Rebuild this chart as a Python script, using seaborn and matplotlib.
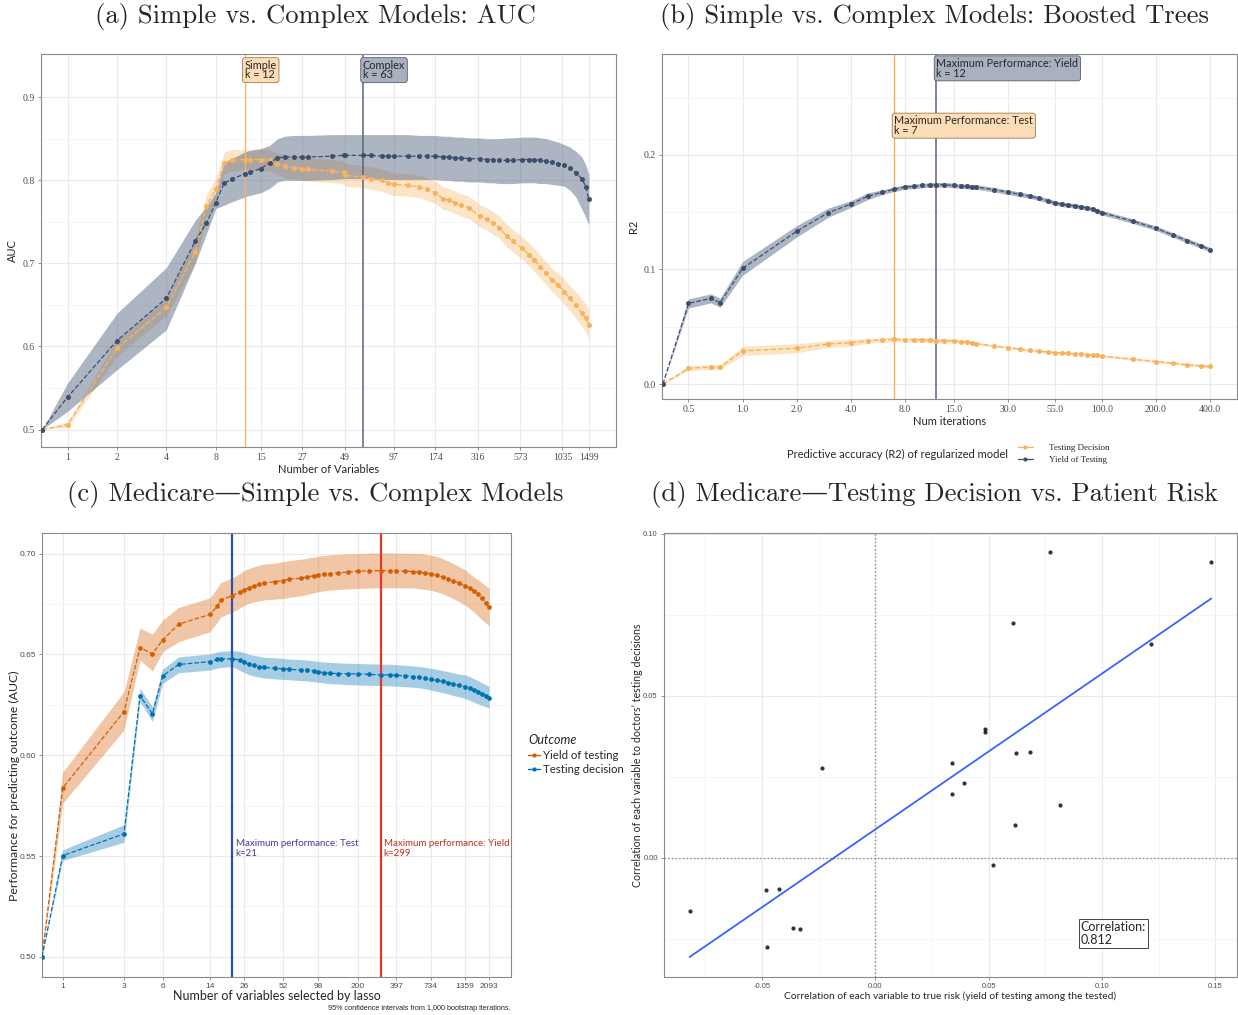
import matplotlib
matplotlib.use("Agg")
import matplotlib.pyplot as plt
import seaborn as sns
from matplotlib.lines import Line2D

# ---------------- data ----------------
# (a) AUC vs number of variables
vars_a = [0.7, 1, 2, 4, 6, 7, 8, 9, 10, 12, 13, 15, 17, 19, 21, 24, 27, 29, 41, 48,
          49, 63, 71, 82, 90, 97, 118, 139, 155, 174, 194, 211, 229, 249, 278, 324,
          358, 391, 428, 473, 514, 589, 652, 698, 760, 826, 897, 975, 1060, 1150,
          1250, 1360, 1440, 1499]
auc_simple = [0.500, 0.506, 0.598, 0.647, 0.714, 0.769, 0.789, 0.821, 0.824, 0.825,
              0.825, 0.825, 0.824, 0.820, 0.817, 0.815, 0.814, 0.813, 0.811, 0.810,
              0.806, 0.804, 0.802, 0.800, 0.797, 0.795, 0.794, 0.792, 0.789, 0.785,
              0.778, 0.776, 0.773, 0.770, 0.767, 0.757, 0.753, 0.748, 0.743, 0.733,
              0.727, 0.718, 0.710, 0.704, 0.696, 0.688, 0.680, 0.674, 0.666, 0.658,
              0.650, 0.640, 0.634, 0.626]
auc_simple_lo = [0.500, 0.503, 0.588, 0.637, 0.700, 0.755, 0.776, 0.808, 0.811, 0.813,
                 0.813, 0.812, 0.811, 0.807, 0.803, 0.801, 0.800, 0.799, 0.797, 0.796,
                 0.793, 0.791, 0.789, 0.787, 0.784, 0.782, 0.781, 0.779, 0.776, 0.772,
                 0.765, 0.763, 0.760, 0.757, 0.754, 0.744, 0.740, 0.735, 0.730, 0.720,
                 0.714, 0.705, 0.696, 0.690, 0.682, 0.674, 0.666, 0.659, 0.651, 0.643,
                 0.634, 0.624, 0.617, 0.609]
auc_simple_hi = [0.500, 0.509, 0.608, 0.657, 0.728, 0.783, 0.802, 0.834, 0.837, 0.837,
                 0.837, 0.838, 0.837, 0.833, 0.831, 0.829, 0.828, 0.827, 0.825, 0.824,
                 0.820, 0.818, 0.816, 0.814, 0.811, 0.809, 0.808, 0.806, 0.803, 0.799,
                 0.792, 0.790, 0.787, 0.784, 0.781, 0.771, 0.767, 0.762, 0.757, 0.747,
                 0.741, 0.732, 0.724, 0.718, 0.710, 0.702, 0.694, 0.688, 0.681, 0.673,
                 0.666, 0.657, 0.651, 0.644]
auc_complex = [0.500, 0.539, 0.607, 0.658, 0.727, 0.748, 0.773, 0.797, 0.801, 0.808,
               0.810, 0.814, 0.821, 0.827, 0.828, 0.828, 0.828, 0.828, 0.829, 0.830,
               0.830, 0.830, 0.830, 0.829, 0.829, 0.829, 0.829, 0.829, 0.829, 0.829,
               0.828, 0.828, 0.827, 0.827, 0.826, 0.826, 0.825, 0.825, 0.824, 0.824,
               0.824, 0.825, 0.825, 0.825, 0.824, 0.823, 0.822, 0.820, 0.818, 0.815,
               0.809, 0.802, 0.792, 0.777]
auc_complex_lo = [0.500, 0.522, 0.572, 0.620, 0.700, 0.735, 0.766, 0.770, 0.774, 0.780,
                  0.782, 0.785, 0.790, 0.798, 0.800, 0.800, 0.800, 0.800, 0.801, 0.802,
                  0.802, 0.802, 0.802, 0.801, 0.801, 0.801, 0.801, 0.801, 0.801, 0.801,
                  0.800, 0.800, 0.799, 0.799, 0.798, 0.798, 0.797, 0.797, 0.796, 0.796,
                  0.796, 0.797, 0.797, 0.797, 0.796, 0.796, 0.795, 0.794, 0.793, 0.788,
                  0.780, 0.765, 0.755, 0.746]
auc_complex_hi = [0.500, 0.556, 0.640, 0.695, 0.752, 0.768, 0.785, 0.822, 0.826, 0.834,
                  0.836, 0.838, 0.842, 0.850, 0.853, 0.854, 0.854, 0.854, 0.855, 0.855,
                  0.855, 0.855, 0.855, 0.855, 0.855, 0.855, 0.855, 0.854, 0.854, 0.854,
                  0.853, 0.853, 0.852, 0.852, 0.851, 0.851, 0.850, 0.850, 0.850, 0.851,
                  0.851, 0.852, 0.852, 0.852, 0.851, 0.850, 0.848, 0.846, 0.843, 0.840,
                  0.835, 0.828, 0.818, 0.807]
ticks_a = [1, 2, 4, 8, 15, 27, 49, 97, 174, 316, 573, 1035, 1499]

# (b) R2 vs boosting iterations
iters_b = [0.36, 0.5, 0.667, 0.75, 1.0, 2.0, 3.0, 4.0, 5.0, 6.0,
           7.0, 8.0, 9.0, 10.0, 11.0, 12.0, 13.2, 15.0, 16.5, 17.7,
           19.0, 20.0, 25.0, 30.0, 35.0, 40.0, 45.0, 50.0, 55.0, 60.0,
           65.0, 71.0, 77.0, 83.0, 89.0, 94.0, 100.0, 150.0, 200.0, 250.0,
           300.0, 355.0, 400.0]
r2_yield = [0.0, 0.0704, 0.0748, 0.0710, 0.1009, 0.1333, 0.1496, 0.1570, 0.1640, 0.1675,
            0.1700, 0.1720, 0.1725, 0.1733, 0.1736, 0.1740, 0.1740, 0.1733, 0.1728, 0.1725,
            0.1720, 0.1720, 0.1696, 0.1675, 0.1655, 0.1640, 0.1620, 0.1600, 0.1580, 0.1570,
            0.1562, 0.1555, 0.1545, 0.1537, 0.1528, 0.1510, 0.1496, 0.1420, 0.1360, 0.1300,
            0.1250, 0.1206, 0.1174]
r2_yield_hw = [0.0, 0.004, 0.004, 0.004, 0.006, 0.005, 0.004, 0.003, 0.003, 0.002,
               0.002, 0.002, 0.002, 0.002, 0.002, 0.002, 0.002, 0.002, 0.002, 0.002,
               0.002, 0.002, 0.002, 0.002, 0.002, 0.002, 0.002, 0.002, 0.002, 0.002,
               0.002, 0.002, 0.002, 0.002, 0.002, 0.002, 0.002, 0.002, 0.002, 0.002,
               0.002, 0.002, 0.002]
r2_test = [0.0, 0.0139, 0.0148, 0.0148, 0.0290, 0.0313, 0.0350, 0.0362, 0.0377, 0.0386,
           0.0390, 0.0386, 0.0386, 0.0386, 0.0382, 0.0380, 0.0380, 0.0377, 0.0370, 0.0367,
           0.0361, 0.0354, 0.0333, 0.0319, 0.0307, 0.0296, 0.0287, 0.0281, 0.0275, 0.0272,
           0.0267, 0.0264, 0.0261, 0.0258, 0.0255, 0.0250, 0.0246, 0.0217, 0.0197, 0.0183,
           0.0168, 0.0160, 0.0154]
r2_test_hw = [0.0, 0.002, 0.002, 0.002, 0.004, 0.004, 0.003, 0.003, 0.002, 0.002,
              0.002, 0.002, 0.002, 0.002, 0.002, 0.002, 0.002, 0.0015, 0.0015, 0.0015,
              0.0012, 0.0012, 0.001, 0.001, 0.001, 0.001, 0.001, 0.001, 0.001, 0.001,
              0.001, 0.001, 0.001, 0.001, 0.001, 0.001, 0.001, 0.001, 0.001, 0.001,
              0.001, 0.001, 0.001]
ticks_b = [0.5, 1.0, 2.0, 4.0, 8.0, 15.0, 30.0, 55.0, 100.0, 200.0, 400.0]

# (c) Medicare AUC vs lasso-selected variables
vars_c = [0.69, 1, 3, 4, 5, 6, 8, 14, 16, 17,
          21, 24, 26, 28, 31, 34, 37, 45, 52, 58,
          72, 80, 90, 98, 108, 120, 139, 168, 200, 245,
          299, 352, 397, 461, 534, 596, 665, 734, 821, 911,
          1010, 1100, 1210, 1359, 1480, 1590, 1710, 1840, 1980, 2093]
auc_yield = [0.500, 0.5837, 0.6216, 0.6533, 0.6503, 0.6571, 0.6650, 0.6698, 0.6739, 0.6769,
             0.6792, 0.6810, 0.6820, 0.6830, 0.6840, 0.6848, 0.6853, 0.6860, 0.6866, 0.6873,
             0.6878, 0.6884, 0.6890, 0.6894, 0.6898, 0.6900, 0.6904, 0.6909, 0.6913, 0.6914,
             0.6916, 0.6914, 0.6914, 0.6913, 0.6911, 0.6908, 0.6904, 0.6900, 0.6893, 0.6884,
             0.6875, 0.6865, 0.6855, 0.6840, 0.6827, 0.6814, 0.6800, 0.6778, 0.6756, 0.6733]
auc_yield_lo = [0.500, 0.5762, 0.6125, 0.6472, 0.6418, 0.6513, 0.6563, 0.6612, 0.6660, 0.6686,
                0.6710, 0.6730, 0.6744, 0.6752, 0.6760, 0.6766, 0.6770, 0.6774, 0.6777, 0.6783,
                0.6790, 0.6797, 0.6805, 0.6810, 0.6815, 0.6818, 0.6822, 0.6825, 0.6827, 0.6829,
                0.6830, 0.6830, 0.6830, 0.6830, 0.6829, 0.6826, 0.6822, 0.6818, 0.6810, 0.6800,
                0.6787, 0.6776, 0.6763, 0.6744, 0.6727, 0.6710, 0.6692, 0.6672, 0.6655, 0.6640]
auc_yield_hi = [0.500, 0.5916, 0.6315, 0.6630, 0.6600, 0.6670, 0.6733, 0.6780, 0.6830, 0.6855,
                0.6881, 0.6900, 0.6917, 0.6925, 0.6935, 0.6942, 0.6948, 0.6953, 0.6959, 0.6965,
                0.6972, 0.6977, 0.6982, 0.6987, 0.6990, 0.6993, 0.6996, 0.6999, 0.7000, 0.7002,
                0.7003, 0.7003, 0.7002, 0.7002, 0.7001, 0.7000, 0.6998, 0.6992, 0.6985, 0.6975,
                0.6962, 0.6950, 0.6937, 0.6920, 0.6900, 0.6885, 0.6870, 0.6855, 0.6840, 0.6827]
auc_test = [0.500, 0.5502, 0.5610, 0.6295, 0.6205, 0.6393, 0.6450, 0.6464, 0.6475, 0.6478,
            0.6478, 0.6472, 0.6462, 0.6450, 0.6445, 0.6439, 0.6436, 0.6430, 0.6429, 0.6426,
            0.6422, 0.6422, 0.6419, 0.6414, 0.6409, 0.6406, 0.6405, 0.6404, 0.6403, 0.6401,
            0.6398, 0.6398, 0.6396, 0.6393, 0.6390, 0.6386, 0.6381, 0.6376, 0.6371, 0.6366,
            0.6360, 0.6353, 0.6347, 0.6340, 0.6332, 0.6323, 0.6315, 0.6305, 0.6295, 0.6285]
auc_test_lo = [0.500, 0.5478, 0.5568, 0.6266, 0.6167, 0.6356, 0.6409, 0.6422, 0.6432, 0.6436,
               0.6439, 0.6420, 0.6410, 0.6400, 0.6392, 0.6387, 0.6383, 0.6378, 0.6376, 0.6374,
               0.6370, 0.6368, 0.6364, 0.6362, 0.6358, 0.6355, 0.6353, 0.6350, 0.6348, 0.6347,
               0.6345, 0.6344, 0.6342, 0.6340, 0.6337, 0.6334, 0.6330, 0.6323, 0.6317, 0.6310,
               0.6303, 0.6296, 0.6290, 0.6282, 0.6272, 0.6263, 0.6255, 0.6247, 0.6240, 0.6233]
auc_test_hi = [0.500, 0.5531, 0.5655, 0.6332, 0.6240, 0.6426, 0.6488, 0.6502, 0.6512, 0.6516,
               0.6518, 0.6515, 0.6508, 0.6500, 0.6495, 0.6490, 0.6486, 0.6483, 0.6480, 0.6477,
               0.6474, 0.6472, 0.6468, 0.6465, 0.6462, 0.6460, 0.6458, 0.6456, 0.6455, 0.6453,
               0.6452, 0.6451, 0.6449, 0.6446, 0.6443, 0.6440, 0.6436, 0.6431, 0.6426, 0.6420,
               0.6414, 0.6408, 0.6403, 0.6398, 0.6390, 0.6380, 0.6370, 0.6360, 0.6350, 0.6340]
ticks_c = [1, 3, 6, 14, 26, 52, 98, 200, 397, 734, 1359, 2093]

# (d) per-variable correlations
corr_risk = [-0.0819, -0.0482, -0.0426, -0.0477, -0.0362, -0.0332, -0.0233, 0.0339,
             0.0336, 0.0391, 0.0483, 0.0483, 0.0605, 0.0619, 0.0680, 0.0617, 0.0520,
             0.0770, 0.0816, 0.1217, 0.1482]
corr_test = [-0.0163, -0.0100, -0.0097, -0.0276, -0.0216, -0.0221, 0.0278, 0.0291,
             0.0196, 0.0231, 0.0396, 0.0389, 0.0724, 0.0322, 0.0325, 0.0100, -0.0022,
             0.0942, 0.0163, 0.0659, 0.0911]

# ---------------- style ----------------
sns.set_theme(style="white")
plt.rcParams['font.family'] = ['Lato', 'DejaVu Sans']

ORANGE = '#F9B25C'
NAVY = '#3E4F6E'
C_ORANGE = '#D55E00'
C_BLUE = '#0072B2'
TITLE_FONT = ['cmr10', 'DejaVu Serif']
SERIF = ['Liberation Serif', 'DejaVu Serif']
NARROW = ['Liberation Sans Narrow', 'Liberation Sans', 'DejaVu Sans']

W, H = 1238, 1015
fig = plt.figure(figsize=(W / 100, H / 100), dpi=100)


def box(l, t, r, b):
    return [l / W, 1 - b / H, (r - l) / W, (b - t) / H]


def frame(ax, yminor):
    for s in ax.spines.values():
        s.set_color('#8a8a8a')
        s.set_linewidth(0.8)
    ax.set_axisbelow(True)
    ax.grid(True, which='major', color='#ebebeb', lw=0.8)
    ax.set_yticks(yminor, minor=True)
    ax.grid(True, which='minor', axis='y', color='#f2f2f2', lw=0.5)
    ax.tick_params(which='major', length=2.5, width=0.5, color='#666666',
                   labelcolor='#4d4d4d', pad=2, bottom=True, left=True)
    ax.tick_params(which='minor', length=0)


def series(ax, x, y, color, ms, lw):
    sns.lineplot(x=x, y=y, ax=ax, color=color, estimator=None, sort=False,
                 linestyle='--', lw=lw, marker='o', markersize=ms,
                 markeredgewidth=0, zorder=3)


# ---------------- (a) ----------------
ax = fig.add_axes(box(41, 54, 616, 447))
ax.set_xscale('log', base=2)
ax.fill_between(vars_a, auc_simple_lo, auc_simple_hi, color=ORANGE, alpha=0.35, lw=0)
ax.fill_between(vars_a, auc_complex_lo, auc_complex_hi, color='#4A5B7A', alpha=0.45, lw=0)
series(ax, vars_a, auc_simple, ORANGE, 3.6, 1.0)
series(ax, vars_a, auc_complex, NAVY, 3.6, 0.9)
ax.axvline(12, color=ORANGE, lw=0.9, zorder=2)
ax.axvline(63, color='#56657f', lw=1.1, zorder=2)
ax.text(12, 0.945, "Simple\nk = 12", ha='left', va='top', fontsize=7.8, linespacing=0.85,
        bbox=dict(boxstyle='round,pad=0.2,rounding_size=0.25', fc='#FDDDB7', ec='#9a7a50', lw=0.6))
ax.text(63, 0.945, "Complex\nk = 63", ha='left', va='top', fontsize=7.8, linespacing=0.85,
        bbox=dict(boxstyle='round,pad=0.2,rounding_size=0.25', fc='#A9B1C1', ec='#555f70', lw=0.6))
ax.set_xlim(0.689, 2195)
ax.set_ylim(0.479, 0.952)
frame(ax, [0.55, 0.65, 0.75, 0.85])
ax.set_xticks(ticks_a)
ax.set_xticklabels([str(t) for t in ticks_a], fontfamily=SERIF, fontsize=7)
ax.xaxis.set_minor_locator(matplotlib.ticker.NullLocator())
ax.set_yticks([0.5, 0.6, 0.7, 0.8, 0.9])
ax.set_yticklabels(['0.5', '0.6', '0.7', '0.8', '0.9'], fontfamily=SERIF, fontsize=7)
ax.set_xlabel("Number of Variables", fontsize=8, labelpad=1)
ax.set_ylabel("AUC", fontsize=8, labelpad=3)

# ---------------- (b) ----------------
ax = fig.add_axes(box(662, 54, 1237, 399))
ax.set_xscale('log', base=2)
ax.fill_between(iters_b, [v - h for v, h in zip(r2_test, r2_test_hw)],
                [v + h for v, h in zip(r2_test, r2_test_hw)], color=ORANGE, alpha=0.35, lw=0)
ax.fill_between(iters_b, [v - h for v, h in zip(r2_yield, r2_yield_hw)],
                [v + h for v, h in zip(r2_yield, r2_yield_hw)], color='#4A5B7A', alpha=0.45, lw=0)
series(ax, iters_b, r2_test, ORANGE, 3.6, 1.0)
series(ax, iters_b, r2_yield, NAVY, 3.6, 0.9)
ax.axvline(7, color=ORANGE, lw=1.0, zorder=2)
ax.axvline(12, color='#56657f', lw=1.1, zorder=2)
ax.text(12, 0.2845, "Maximum Performance: Yield\nk = 12", ha='left', va='top', fontsize=7.8,
        linespacing=0.85,
        bbox=dict(boxstyle='round,pad=0.2,rounding_size=0.25', fc='#A9B1C1', ec='#555f70', lw=0.6))
ax.text(7, 0.2345, "Maximum Performance: Test\nk = 7", ha='left', va='top', fontsize=7.8,
        linespacing=0.85,
        bbox=dict(boxstyle='round,pad=0.2,rounding_size=0.25', fc='#FDDDB7', ec='#9a7a50', lw=0.6))
ax.set_xlim(0.356, 566)
ax.set_ylim(-0.013, 0.288)
frame(ax, [0.05, 0.15, 0.25])
ax.set_xticks(ticks_b)
ax.set_xticklabels([f"{t:.1f}" for t in ticks_b], fontfamily=SERIF, fontsize=7)
ax.xaxis.set_minor_locator(matplotlib.ticker.NullLocator())
ax.set_yticks([0.0, 0.1, 0.2])
ax.set_yticklabels(['0.0', '0.1', '0.2'], fontfamily=SERIF, fontsize=7)
ax.set_xlabel("Num iterations", fontsize=8, labelpad=1)
ax.set_ylabel("R2", fontsize=8, labelpad=3)

fig.text(787 / W, 1 - 454 / H, "Predictive accuracy (R2) of regularized model",
         fontsize=8, ha='left', va='center')
handles_b = [Line2D([], [], color=ORANGE, marker='o', ms=3, lw=0.9, markeredgewidth=0),
             Line2D([], [], color=NAVY, marker='o', ms=3, lw=0.9, markeredgewidth=0)]
fig.legend(handles_b, ["Testing Decision", "Yield of Testing"], loc='center left',
           bbox_to_anchor=(1010 / W, 1 - 454 / H), frameon=False, handlelength=1.6,
           handletextpad=1.8, labelspacing=0.45,
           prop=dict(family=SERIF, size=6.5))

# ---------------- (c) ----------------
ax = fig.add_axes(box(42, 533, 511, 977))
ax.set_xscale('log', base=2)
ax.fill_between(vars_c, auc_yield_lo, auc_yield_hi, color=C_ORANGE, alpha=0.35, lw=0)
ax.fill_between(vars_c, auc_test_lo, auc_test_hi, color=C_BLUE, alpha=0.35, lw=0)
series(ax, vars_c, auc_yield, C_ORANGE, 3.4, 0.9)
series(ax, vars_c, auc_test, C_BLUE, 3.4, 0.9)
ax.axvline(21, color='#2B50B0', lw=1.6, zorder=2)
ax.axvline(299, color='#E23A22', lw=1.6, zorder=2)
ax.text(21 * 1.06, 0.5585, "Maximum performance: Test\nk=21", color='#413C9C',
        ha='left', va='top', fontsize=7, linespacing=1.2)
ax.text(299 * 1.06, 0.5585, "Maximum performance: Yield\nk=299", color='#B8321E',
        ha='left', va='top', fontsize=7, linespacing=1.2)
ax.set_xlim(0.69, 3100)
ax.set_ylim(0.490, 0.7102)
frame(ax, [0.525, 0.575, 0.625, 0.675])
ax.set_xticks(ticks_c)
ax.set_xticklabels([str(t) for t in ticks_c], fontfamily=NARROW, fontsize=6)
ax.xaxis.set_minor_locator(matplotlib.ticker.NullLocator())
ax.set_yticks([0.50, 0.55, 0.60, 0.65, 0.70])
ax.set_yticklabels(['0.50', '0.55', '0.60', '0.65', '0.70'], fontfamily=NARROW, fontsize=6)
ax.set_xlabel("Number of variables selected by lasso", fontsize=9, labelpad=0)
ax.set_ylabel("Performance for predicting outcome (AUC)", fontsize=8.8)
ax.yaxis.set_label_coords(-0.046, 0.43)
fig.text(511 / W, 1 - 1008 / H, "95% confidence intervals from 1,000 bootstrap iterations.",
         fontsize=5.2, ha='right', va='center', fontfamily=NARROW)

handles_c = [Line2D([], [], color=C_ORANGE, marker='o', ms=3, lw=1.0, markeredgewidth=0),
             Line2D([], [], color=C_BLUE, marker='o', ms=3, lw=1.0, markeredgewidth=0)]
leg = fig.legend(handles_c, ["Yield of testing", "Testing decision"], loc='upper left',
                 bbox_to_anchor=(518 / W, 1 - 724 / H), frameon=False, handlelength=1.0,
                 handletextpad=0.3, labelspacing=0.3, title="Outcome",
                 prop=dict(size=8.2), title_fontproperties=dict(size=9, style='italic'))
leg._legend_box.align = 'left'

# ---------------- (d) ----------------
ax = fig.add_axes(box(664, 533, 1237, 977))
ax.axhline(0, color='#8c8c8c', ls=':', lw=1.0, zorder=1)
ax.axvline(0, color='#8c8c8c', ls=':', lw=1.0, zorder=1)
sns.regplot(x=corr_risk, y=corr_test, ax=ax, ci=None,
            scatter_kws=dict(s=9, color='black', linewidths=0, zorder=4),
            line_kws=dict(color='#3366FF', lw=1.3, zorder=3))
ax.text(0.0905, -0.0195, "Correlation:\n0.812", ha='left', va='top', fontsize=9,
        linespacing=1.15,
        bbox=dict(boxstyle='square,pad=0.15', fc='white', ec='#444444', lw=0.7))
ax.set_xlim(-0.0932, 0.1595)
ax.set_ylim(-0.0368, 0.1002)
frame(ax, [-0.025, 0.025, 0.075])
ax.set_xticks([-0.075, -0.025, 0.025, 0.075, 0.125], minor=True)
ax.grid(True, which='minor', axis='x', color='#f2f2f2', lw=0.5)
ax.set_xticks([-0.05, 0.0, 0.05, 0.10, 0.15])
ax.set_xticklabels(['-0.05', '0.00', '0.05', '0.10', '0.15'], fontfamily=NARROW, fontsize=5.5)
ax.set_yticks([0.0, 0.05, 0.10])
ax.set_yticklabels(['0.00', '0.05', '0.10'], fontfamily=NARROW, fontsize=5.5)
ax.set_xlabel("Correlation of each variable to true risk (yield of testing among the tested)",
              fontsize=7.4, labelpad=1)
ax.set_ylabel("Correlation of each variable to doctors\u2019 testing decisions", fontsize=7.7)
ax.yaxis.set_label_coords(-0.036, 0.5)

# ---------------- panel titles ----------------
for x, y, t in [(315, 16, "(a) Simple vs. Complex Models: AUC"),
                (935, 16, "(b) Simple vs. Complex Models: Boosted Trees"),
                (315, 495, "(c) Medicare\u2014Simple vs. Complex Models"),
                (935, 495, "(d) Medicare\u2014Testing Decision vs. Patient Risk")]:
    fig.text(x / W, 1 - y / H, t, ha='center', va='center', fontsize=19.2,
             fontfamily=TITLE_FONT)

fig.savefig("out.png", dpi=100)
